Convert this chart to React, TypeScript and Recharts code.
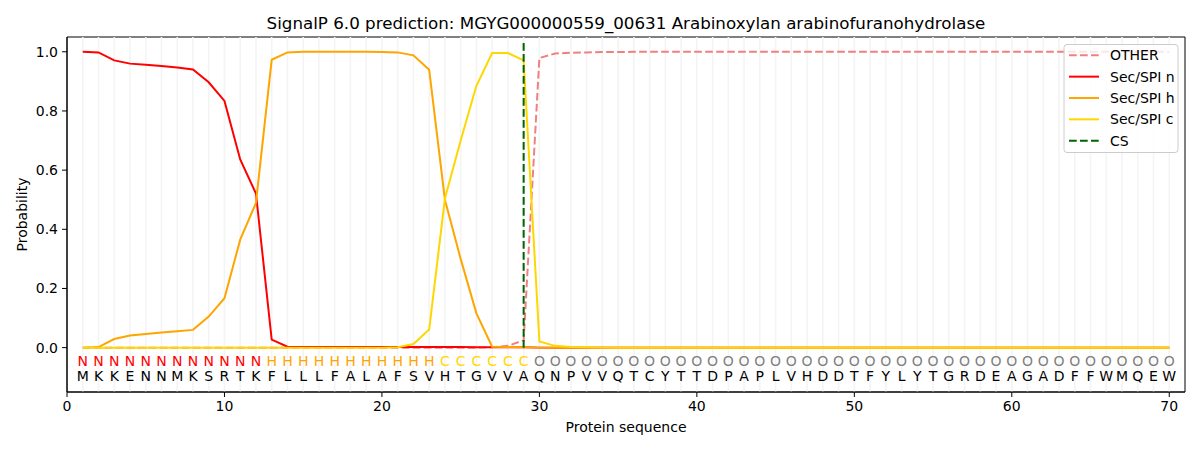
import React from "react";
import {
  ComposedChart,
  Line,
  XAxis,
  YAxis,
  ReferenceLine,
  ReferenceDot,
  ReferenceArea,
} from "recharts";

const TITLE = "SignalP 6.0 prediction: MGYG000000559_00631 Arabinoxylan arabinofuranohydrolase";

const residues = [
  "M","K","K","E","N","N","M","K","S","R",
  "T","K","F","L","L","L","F","A","L","A",
  "F","S","V","H","T","G","V","V","A","Q",
  "N","P","V","V","Q","T","C","Y","T","T",
  "D","P","A","P","L","V","H","D","D","T",
  "F","Y","L","Y","T","G","R","D","E","A",
  "G","A","D","F","F","W","M","Q","E","W",
];

const regionLabels = [
  "N","N","N","N","N","N","N","N","N","N",
  "N","N","H","H","H","H","H","H","H","H",
  "H","H","H","C","C","C","C","C","C","O",
  "O","O","O","O","O","O","O","O","O","O",
  "O","O","O","O","O","O","O","O","O","O",
  "O","O","O","O","O","O","O","O","O","O",
  "O","O","O","O","O","O","O","O","O","O",
];

const otherProb = [
  0, 0, 0, 0, 0, 0, 0, 0, 0, 0,
  0, 0, 0, 0, 0, 0, 0, 0, 0, 0,
  0, 0, 0, 0, 0, 0, 0.001, 0.006, 0.025, 0.979,
  0.994, 0.997, 0.998, 0.999, 0.999, 1, 1, 1, 1, 1,
  1, 1, 1, 1, 1, 1, 1, 1, 1, 1,
  1, 1, 1, 1, 1, 1, 1, 1, 1, 1,
  1, 1, 1, 1, 1, 1, 1, 1, 1, 1,
];

const secN = [
  1.0, 0.998, 0.971, 0.96, 0.956, 0.952, 0.947, 0.94, 0.897, 0.834,
  0.636, 0.521, 0.027, 0.003, 0.002, 0.002, 0.002, 0.002, 0.002, 0.002,
  0.002, 0.002, 0.002, 0.002, 0.002, 0.001, 0.001, 0.001, 0.001, 0,
  0, 0, 0, 0, 0, 0, 0, 0, 0, 0,
  0, 0, 0, 0, 0, 0, 0, 0, 0, 0,
  0, 0, 0, 0, 0, 0, 0, 0, 0, 0,
  0, 0, 0, 0, 0, 0, 0, 0, 0, 0,
];

const secH = [
  0, 0.002, 0.029, 0.041, 0.046, 0.051, 0.055, 0.06, 0.105, 0.167,
  0.365, 0.489, 0.973, 0.998, 1.0, 1.0, 1.0, 1.0, 1.0, 0.999,
  0.998, 0.988, 0.939, 0.5, 0.3, 0.116, 0.003, 0.002, 0.001, 0,
  0, 0, 0, 0, 0, 0, 0, 0, 0, 0,
  0, 0, 0, 0, 0, 0, 0, 0, 0, 0,
  0, 0, 0, 0, 0, 0, 0, 0, 0, 0,
  0, 0, 0, 0, 0, 0, 0, 0, 0, 0,
];

const secC = [
  0, 0, 0, 0, 0, 0, 0, 0, 0, 0,
  0, 0, 0, 0, 0, 0, 0, 0, 0, 0,
  0.001, 0.012, 0.061, 0.504, 0.7, 0.885, 0.996, 0.996, 0.971, 0.021,
  0.006, 0.002, 0.001, 0, 0, 0, 0, 0, 0, 0,
  0, 0, 0, 0, 0, 0, 0, 0, 0, 0,
  0, 0, 0, 0, 0, 0, 0, 0, 0, 0,
  0, 0, 0, 0, 0, 0, 0, 0, 0, 0,
];

const csPosition = 29;
const xTicks = [0, 10, 20, 30, 40, 50, 60, 70];
const yTicks = [0, 0.2, 0.4, 0.6, 0.8, 1.0];

const positions = residues.map((_, i) => i + 1);

const rows = positions.map((p, i) => ({
  pos: p,
  other: otherProb[i],
  n: secN[i],
  h: secH[i],
  c: secC[i],
}));

const series = [
  { key: "other", name: "OTHER", color: "#f08080", dash: "7.7 3.3" },
  { key: "n", name: "Sec/SPI n", color: "#ff0000", dash: undefined },
  { key: "h", name: "Sec/SPI h", color: "#ffa500", dash: undefined },
  { key: "c", name: "Sec/SPI c", color: "#ffd700", dash: undefined },
];
const csStyle = { name: "CS", color: "#006400", dash: "7.7 3.3" };

const regionColor: Record<string, string> = {
  N: "#ff0000",
  H: "#ffa500",
  C: "#ffd700",
  O: "#808080",
};

const FONT = "'DejaVu Sans', sans-serif";

export default function App() {
  const W = 1200;
  const H = 450;
  const legendItems = [...series, csStyle];
  return (
    <div style={{ position: "absolute", left: 0, top: 0, width: W, height: H, background: "#fff", fontFamily: FONT }}>
      <ComposedChart
        width={W}
        height={H}
        data={rows}
        margin={{ top: 37, right: 15, bottom: 28, left: 7 }}
        style={{ fontFamily: FONT }}
      >
        <XAxis
          dataKey="pos"
          type="number"
          domain={[0, 71]}
          ticks={xTicks}
          allowDataOverflow
          height={30}
          tickSize={5}
          tickMargin={4}
          stroke="#000"
          tick={{ fill: "#000", fontSize: 14 }}
          tickLine={{ stroke: "#000" }}
          axisLine={{ stroke: "#000" }}
        />
        <YAxis
          type="number"
          domain={[-0.15, 1.05]}
          ticks={yTicks}
          allowDataOverflow
          width={60}
          tickSize={5}
          tickMargin={4}
          tickFormatter={(v: number) => v.toFixed(1)}
          tick={{ fill: "#000", fontSize: 14 }}
          tickLine={{ stroke: "#000" }}
          axisLine={{ stroke: "#000" }}
        />
        {positions.map((p) => (
          <ReferenceLine
            key={"g" + p}
            x={p}
            stroke="#f4f4f4"
            strokeWidth={1.6}
            ifOverflow="visible"
          />
        ))}
        {series.map((s) => (
          <Line
            key={s.key}
            dataKey={s.key}
            name={s.name}
            type="linear"
            stroke={s.color}
            strokeWidth={2}
            strokeDasharray={s.dash}
            dot={false}
            activeDot={false}
            isAnimationActive={false}
          />
        ))}
        <ReferenceLine
          segment={[
            { x: csPosition, y: 0 },
            { x: csPosition, y: 1.035 },
          ]}
          stroke={csStyle.color}
          strokeWidth={2}
          strokeDasharray={csStyle.dash}
          ifOverflow="visible"
        />
        {positions.map((p, i) => (
          <ReferenceDot
            key={"r" + p}
            x={p}
            y={-0.044}
            r={1}
            fill="none"
            stroke="none"
            ifOverflow="visible"
            label={{
              value: regionLabels[i],
              position: "center",
              fill: regionColor[regionLabels[i]],
              fontSize: 14,
              fontFamily: FONT,
            }}
          />
        ))}
        {positions.map((p, i) => (
          <ReferenceDot
            key={"a" + p}
            x={p}
            y={-0.097}
            r={1}
            fill="none"
            stroke="none"
            ifOverflow="visible"
            label={{
              value: residues[i],
              position: "center",
              fill: "#000",
              fontSize: 14,
              fontFamily: FONT,
            }}
          />
        ))}
        <ReferenceArea
          x1={0}
          x2={71}
          y1={-0.15}
          y2={1.05}
          fill="none"
          stroke="#000"
          strokeWidth={1}
          ifOverflow="visible"
        />
      </ComposedChart>
      <svg
        width={W}
        height={H}
        style={{ position: "absolute", left: 0, top: 0, pointerEvents: "none" }}
        fontFamily={FONT}
      >
        <text x={626} y={23} textAnchor="middle" dominantBaseline="central" fontSize={16.7} fill="#000">
          {TITLE}
        </text>
        <text
          x={22}
          y={214.5}
          textAnchor="middle"
          dominantBaseline="central"
          fontSize={14}
          fill="#000"
          transform="rotate(-90 22 214.5)"
        >
          Probability
        </text>
        <text x={626} y={427} textAnchor="middle" dominantBaseline="central" fontSize={14} fill="#000">
          Protein sequence
        </text>
        <rect
          x={1064}
          y={44.5}
          width={114}
          height={108}
          rx={3}
          ry={3}
          fill="#fff"
          fillOpacity={0.8}
          stroke="#cccccc"
          strokeWidth={1}
        />
        {legendItems.map((it, i) => {
          const cy = 55.3 + i * 21.35;
          return (
            <g key={it.name}>
              <line
                x1={1069}
                x2={1099}
                y1={cy}
                y2={cy}
                stroke={it.color}
                strokeWidth={2}
                strokeDasharray={it.dash}
              />
              <text x={1110} y={cy} dominantBaseline="central" fontSize={14} fill="#000">
                {it.name}
              </text>
            </g>
          );
        })}
      </svg>
    </div>
  );
}
